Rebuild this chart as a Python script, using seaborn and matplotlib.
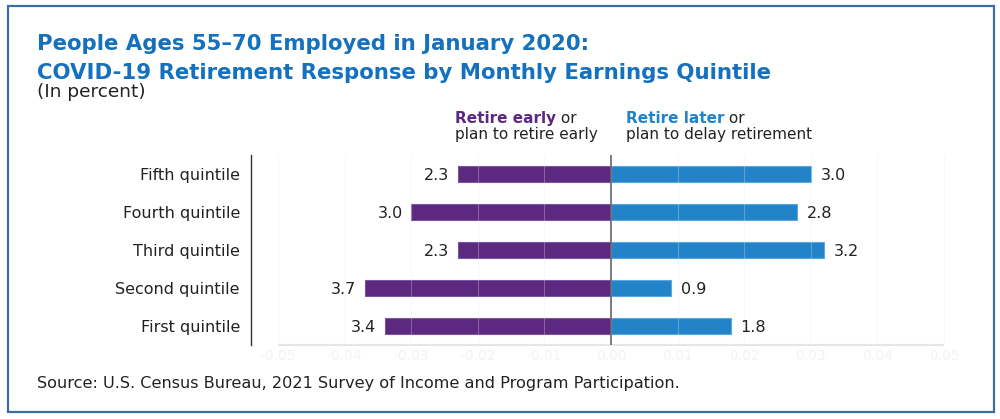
import matplotlib
matplotlib.use("Agg")
import matplotlib.pyplot as plt
import seaborn as sns
import pandas as pd
from matplotlib.patches import Rectangle

categories = ["Fifth quintile", "Fourth quintile", "Third quintile", "Second quintile", "First quintile"]
retire_early = [2.3, 3.0, 2.3, 3.7, 3.4]
retire_later = [3.0, 2.8, 3.2, 0.9, 1.8]
xticks = [-0.05, -0.04, -0.03, -0.02, -0.01, 0.00, 0.01, 0.02, 0.03, 0.04, 0.05]

PURPLE = "#5c2880"
BLUE = "#2383c8"
TITLE_BLUE = "#1570bd"

sns.set_theme(style="white")
plt.rcParams["font.family"] = ["DejaVu Sans"]

df = pd.DataFrame({
    "category": categories,
    "early": [-v / 100 for v in retire_early],
    "later": [v / 100 for v in retire_later],
})

fig = plt.figure(figsize=(10, 4.19), dpi=100)
ax = fig.add_axes([0.251, 0.1766, 0.699, 0.4535])

sns.barplot(data=df, x="early", y="category", orient="h", color=PURPLE,
            width=0.42, saturation=1, edgecolor="#7a55a0", linewidth=0.8, ax=ax, zorder=2)
sns.barplot(data=df, x="later", y="category", orient="h", color=BLUE,
            width=0.42, saturation=1, edgecolor="#5aa8de", linewidth=0.8, ax=ax, zorder=2)

ax.set_xlim(-0.05405, 0.0509)
ax.set_ylim(4.5, -0.5)
ax.set_xlabel("")
ax.set_ylabel("")
ax.set_xticks(xticks)
ax.set_xticklabels([f"{t:.2f}" for t in xticks], color="#f3f3f3", fontsize=10)
ax.tick_params(axis="x", length=0, pad=3)
ax.tick_params(axis="y", length=0, pad=8, labelsize=11.5, labelcolor="#222222")

for s in ["top", "right", "bottom"]:
    ax.spines[s].set_visible(False)
ax.spines["left"].set_color("#333333")
ax.spines["left"].set_linewidth(1.0)

ax.grid(axis="x", color="#e8e8e8", linewidth=0.8, alpha=0.3, zorder=3)
ax.set_axisbelow(False)
ax.hlines(4.5, -0.05, 0.05, color="#e6e6e6", linewidth=1.5, zorder=1, clip_on=False)
ax.axvline(0, color="#666666", linewidth=1.2, zorder=4)

ax.bar_label(ax.containers[0], labels=[f"{v:.1f}" for v in retire_early],
             padding=6, fontsize=11.5, color="#222222")
ax.bar_label(ax.containers[1], labels=[f"{v:.1f}" for v in retire_later],
             padding=7, fontsize=11.5, color="#222222")
for c in ax.texts:
    c.set_va("center_baseline")

# Titles
fig.text(0.037, 1 - 50 / 419, "People Ages 55\u201370 Employed in January 2020:",
         fontsize=15.3, fontweight="bold", color=TITLE_BLUE, va="baseline", ha="left")
fig.text(0.037, 1 - 79 / 419, "COVID-19 Retirement Response by Monthly Earnings Quintile",
         fontsize=15.3, fontweight="bold", color=TITLE_BLUE, va="baseline", ha="left")
fig.text(0.037, 1 - 92 / 419, "(In percent)", fontsize=13.3, color="#222222", va="center", ha="left")

# Legend-like labels
t1 = fig.text(0.455, 1 - 118 / 419, "Retire early", fontsize=11, fontweight="bold",
              color=PURPLE, va="center", ha="left")
fig.text(0.455, 1 - 134 / 419, "plan to retire early", fontsize=11, color="#222222",
         va="center", ha="left")
t2 = fig.text(0.626, 1 - 118 / 419, "Retire later", fontsize=11, fontweight="bold",
              color=BLUE, va="center", ha="left")
fig.text(0.626, 1 - 134 / 419, "plan to delay retirement", fontsize=11, color="#222222",
         va="center", ha="left")

fig.canvas.draw()
r = fig.canvas.get_renderer()
for t in (t1, t2):
    x, y = t.get_position()
    bb = t.get_window_extent(r)
    fig.text(bb.x1 / fig.bbox.width, y, " or", fontsize=11, color="#222222",
             va="center", ha="left")

fig.text(0.037, 1 - 383 / 419,
         "Source: U.S. Census Bureau, 2021 Survey of Income and Program Participation.",
         fontsize=11.6, color="#222222", va="center", ha="left")

fig.patches.append(Rectangle((0.0075, 0.017), 0.9865, 0.969, transform=fig.transFigure,
                             fill=False, edgecolor="#3b6ea5", linewidth=1.6, figure=fig))

fig.savefig("out.png", dpi=100)
